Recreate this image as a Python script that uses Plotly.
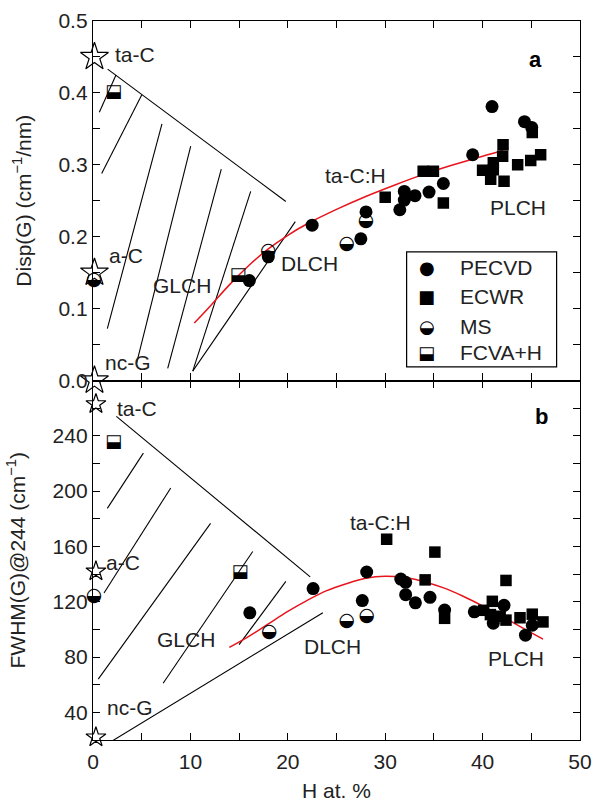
import plotly.graph_objects as go
from plotly.subplots import make_subplots

FONT = "Liberation Sans, Arial, Helvetica, sans-serif"
GLYPH = "DejaVu Sans"
FS = 21

# ---------------- Panel a : Disp(G) (cm-1/nm) ----------------
a_pecvd_x = [16.05, 18.0, 22.5, 27.5, 28.03, 31.5, 31.96, 31.96, 33.06, 34.5, 35.97, 38.98, 40.97, 44.3, 45.04]
a_pecvd_y = [0.139, 0.172, 0.216, 0.197, 0.2345, 0.2375, 0.251, 0.263, 0.257, 0.262, 0.274, 0.314, 0.381, 0.360, 0.352]
a_ecwr_x = [30.0, 33.9, 34.95, 35.97, 40.0, 41.1, 41.1, 40.83, 42.06, 42.1, 42.2, 43.6, 44.94, 45.96, 45.1]
a_ecwr_y = [0.255, 0.291, 0.291, 0.247, 0.2925, 0.303, 0.293, 0.280, 0.312, 0.328, 0.277, 0.300, 0.306, 0.314, 0.345]
a_ms_x = [0.1, 18.0, 26.05, 28.03]
a_ms_y = [0.140, 0.180, 0.190, 0.221]
a_fcva_x = [2.1, 14.9]
a_fcva_y = [0.40, 0.146]
a_star_x = [0.15, 0.15, 0.15]
a_star_y = [0.45, 0.15, 0.0]
a_fit_x = [10.4, 12, 14, 16, 18, 20, 22, 25, 28, 31, 34, 37, 40, 42.1]
a_fit_y = [0.080, 0.103, 0.133, 0.160, 0.183, 0.202, 0.218, 0.238, 0.256, 0.272, 0.287, 0.300, 0.312, 0.320]
# guide lines (x0, y0, x1, y1)
a_guides = [
    (1.5, 0.433, 19.8, 0.249),
    (0.65, 0.373, 2.36, 0.425),
    (0.89, 0.288, 5.0, 0.397),
    (1.47, 0.072, 7.08, 0.357),
    (4.49, 0.025, 10.03, 0.326),
    (7.67, 0.017, 13.17, 0.294),
    (10.24, 0.013, 16.19, 0.263),
    (10.24, 0.013, 20.77, 0.221),
]
a_labels = [("ta-C", 2.1, 0.453), ("a-C", 1.4, 0.174), ("nc-G", 1.06, 0.025),
            ("GLCH", 6.0, 0.1325), ("DLCH", 19.1, 0.1625), ("ta-C:H", 23.6, 0.285),
            ("PLCH", 40.6, 0.2405)]

# ---------------- Panel b : FWHM(G)@244 (cm-1) ----------------
b_pecvd_x = [16.1, 22.6, 27.65, 28.1, 31.6, 32.1, 32.1, 33.1, 34.6, 36.1, 39.15, 41.1, 42.2, 44.4, 45.1]
b_pecvd_y = [112, 129.5, 120.8, 141.5, 136.4, 134, 125.1, 119.2, 123.2, 114, 112.7, 104.5, 117.4, 95.8, 103]
b_ecwr_x = [30.15, 34.1, 35.1, 36.1, 40.1, 41.0, 41.8, 42.4, 42.4, 43.84, 45.1, 46.2, 40.8]
b_ecwr_y = [165.2, 135.8, 155.9, 108, 113.8, 120.3, 109.5, 106.7, 135.4, 108.4, 111, 105.4, 110.7]
b_ms_x = [0.1, 18.1, 26.05, 28.1]
b_ms_y = [124, 98, 106, 109.5]
b_fcva_x = [2.1, 15.1]
b_fcva_y = [235, 141.2]
b_star_x = [0.3, 0.3, 0.3]
b_star_y = [263, 142, 22]
b_fit_x = [14.0, 16, 18, 20, 22, 24, 26, 28, 30, 32, 34, 36, 38, 40, 42, 44, 46.2]
b_fit_y = [87, 95, 104, 113, 121, 128, 133, 137, 138.5, 137.5, 134.5, 130, 124, 117, 109.5, 101.5, 93]
b_guides = [
    (2.4, 254, 22.3, 138),
    (1.47, 187.5, 5.17, 227.5),
    (1.13, 126.3, 7.98, 202.3),
    (0.54, 64, 12.07, 176.7),
    (7.2, 61, 16.4, 156.3),
    (15.0, 89, 19.8, 134.7),
    (1.9, 19, 23.6, 112),
]
b_labels = [("ta-C", 2.26, 260), ("a-C", 1.13, 148.5), ("nc-G", 1.23, 43.6),
            ("GLCH", 6.4, 92.8), ("DLCH", 21.5, 87.4), ("ta-C:H", 26.2, 177.3),
            ("PLCH", 40.35, 79)]

legend_names = ["PECVD", "ECWR", "MS", "FCVA+H"]
legend_glyphs = ["\u25CF", "\u25A0", "\u25D2", "\u2B13"]

x_ticks = [0, 10, 20, 30, 40, 50]
a_ticks = [0.0, 0.1, 0.2, 0.3, 0.4, 0.5]
b_ticks = [40, 80, 120, 160, 200, 240]


def segs(lst):
    xs, ys = [], []
    for x0, y0, x1, y1 in lst:
        xs += [x0, x1, None]
        ys += [y0, y1, None]
    return xs, ys


fig = make_subplots(rows=2, cols=1, shared_xaxes=True, vertical_spacing=0)


def add_panel(row, guides, fit_x, fit_y, px, py, ex, ey, mx, my, fx, fy, sx, sy, star_size):
    gx, gy = segs(guides)
    fig.add_trace(go.Scatter(x=gx, y=gy, mode="lines", line=dict(color="black", width=1.1),
                             showlegend=False, hoverinfo="skip"), row=row, col=1)
    fig.add_trace(go.Scatter(x=fit_x, y=fit_y, mode="lines", line=dict(color="#e8141c", width=1.5),
                             showlegend=False, line_shape="spline"), row=row, col=1)
    fig.add_trace(go.Scatter(x=px, y=py, mode="markers", name="PECVD", showlegend=False,
                             marker=dict(symbol="circle", size=13, color="black")), row=row, col=1)
    fig.add_trace(go.Scatter(x=ex, y=ey, mode="markers", name="ECWR", showlegend=False,
                             marker=dict(symbol="square", size=11.5, color="black")), row=row, col=1)
    fig.add_trace(go.Scatter(x=mx, y=my, mode="text", name="MS", showlegend=False,
                             text=["\u25D2"] * len(mx), textposition="middle center",
                             textfont=dict(family=GLYPH, size=19, color="black"),
                             cliponaxis=False), row=row, col=1)
    fig.add_trace(go.Scatter(x=fx, y=fy, mode="text", name="FCVA+H", showlegend=False,
                             text=["\u2B13"] * len(fx), textposition="middle center",
                             textfont=dict(family=GLYPH, size=18, color="black"),
                             cliponaxis=False), row=row, col=1)
    fig.add_trace(go.Scatter(x=sx, y=sy, mode="markers", showlegend=False, cliponaxis=False,
                             marker=dict(symbol="star-open", size=star_size, color="black",
                                         line=dict(width=1.2))), row=row, col=1)


add_panel(1, a_guides, a_fit_x, a_fit_y, a_pecvd_x, a_pecvd_y, a_ecwr_x, a_ecwr_y,
          a_ms_x, a_ms_y, a_fcva_x, a_fcva_y, a_star_x, a_star_y, 21)
add_panel(2, b_guides, b_fit_x, b_fit_y, b_pecvd_x, b_pecvd_y, b_ecwr_x, b_ecwr_y,
          b_ms_x, b_ms_y, b_fcva_x, b_fcva_y, b_star_x, b_star_y, 15)

ann = []
for t, x, y in a_labels:
    ann.append(dict(text=t, x=x, y=y, xref="x", yref="y", xanchor="left", yanchor="middle",
                    showarrow=False, font=dict(family=FONT, size=FS, color="#222")))
for t, x, y in b_labels:
    ann.append(dict(text=t, x=x, y=y, xref="x2", yref="y2", xanchor="left", yanchor="middle",
                    showarrow=False, font=dict(family=FONT, size=FS, color="#222")))
ann.append(dict(text="<b>a</b>", x=45.4, y=0.447, xref="x", yref="y", showarrow=False,
                font=dict(family=FONT, size=22, color="black")))
ann.append(dict(text="<b>b</b>", x=46.0, y=254, xref="x2", yref="y2", showarrow=False,
                font=dict(family=FONT, size=22, color="black")))

# legend box (drawn inside panel a)
leg_y = [0.1565, 0.117, 0.0752, 0.039]
for name, g, yy in zip(legend_names, legend_glyphs, leg_y):
    ann.append(dict(text=g, x=34.26, y=yy, xref="x", yref="y", showarrow=False,
                    font=dict(family=GLYPH, size=18, color="black")))
    ann.append(dict(text=name, x=37.5, y=yy, xref="x", yref="y", xanchor="left", showarrow=False,
                    font=dict(family=FONT, size=FS, color="#222")))

fig.update_layout(
    width=595, height=802,
    margin=dict(l=93, r=15, t=21, b=62, autoexpand=False),
    paper_bgcolor="white", plot_bgcolor="white",
    font=dict(family=FONT, size=FS, color="#222"),
    annotations=ann,
    shapes=[dict(type="rect", xref="x", yref="y", x0=32.2, x1=47.6, y0=0.019, y1=0.179,
                 line=dict(color="black", width=1.2), fillcolor="rgba(0,0,0,0)")],
    showlegend=False,
)

axis_common = dict(showline=True, linecolor="black", linewidth=1.3, mirror="allticks",
                   ticks="inside", ticklen=7, tickwidth=1.2, tickcolor="black",
                   showgrid=False, zeroline=False, automargin=False)

fig.update_xaxes(range=[0, 50], tickvals=x_ticks,
                 minor=dict(tickvals=[5, 15, 25, 35, 45], ticks="inside", ticklen=7,
                            tickwidth=1.2, tickcolor="black", showgrid=False),
                 **axis_common)
fig.update_xaxes(showticklabels=False, row=1, col=1)
fig.update_xaxes(title=dict(text="H at. %", standoff=18, font=dict(size=FS)),
                 tickfont=dict(size=FS), ticklabelstandoff=3, row=2, col=1)

fig.update_yaxes(range=[0, 0.5], tickvals=a_ticks, ticktext=["0.0", "0.1", "0.2", "0.3", "0.4", "0.5"],
                 minor=dict(tickvals=[0.05, 0.15, 0.25, 0.35, 0.45], ticks="inside", ticklen=7,
                            tickwidth=1.2, tickcolor="black", showgrid=False),
                 title=dict(text="Disp(G) (cm<sup>\u22121</sup>/nm)", standoff=21, font=dict(size=FS)),
                 tickfont=dict(size=FS), row=1, col=1, **axis_common)
fig.update_yaxes(range=[20, 280], tickvals=b_ticks,
                 minor=dict(tickvals=[20, 60, 100, 140, 180, 220, 260, 280], ticks="inside", ticklen=7,
                            tickwidth=1.2, tickcolor="black", showgrid=False),
                 title=dict(text="FWHM(G)@244 (cm<sup>\u22121</sup>)", standoff=21, font=dict(size=FS)),
                 tickfont=dict(size=FS), row=2, col=1, **axis_common)

fig.write_html("out.html")
